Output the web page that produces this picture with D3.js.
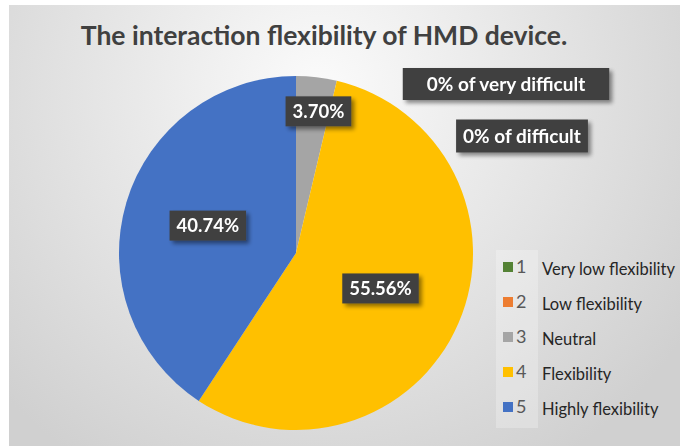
<!DOCTYPE html>
<html>
<head>
<meta charset="utf-8">
<script src="https://cdn.jsdelivr.net/npm/d3@7"></script>
<style>
  body { margin: 0; background: #fff; }
  svg { display: block; font-family: Lato, "Open Sans", sans-serif; }
</style>
</head>
<body>
<div id="chart"></div>
<script>
// data: 27 answers in total
var codes = ["1", "2", "3", "4", "5"];
var categories = ["Very low flexibility", "Low flexibility", "Neutral", "Flexibility", "Highly flexibility"];
var counts = [0, 0, 1, 15, 11];
var colors = ["#548235", "#ED7D31", "#A5A5A5", "#FFC000", "#4472C4"];
var zeroNotes = ["0% of very difficult", "0% of difficult"];
var title = "The interaction flexibility of HMD device.";

var W = 680, H = 446;
var cx = 296, cy = 253, radius = 177;

var svg = d3.select("#chart").append("svg")
  .attr("width", W)
  .attr("height", H);

var defs = svg.append("defs");

// soft grey background, lighter towards the top middle
var grad = defs.append("radialGradient")
  .attr("id", "bg")
  .attr("gradientUnits", "userSpaceOnUse")
  .attr("cx", 320).attr("cy", 90).attr("r", 440);
grad.append("stop").attr("offset", "0%").attr("stop-color", "#fbfbfb");
grad.append("stop").attr("offset", "100%").attr("stop-color", "#d0d0d0");

// little shadow under the dark label boxes
var shadow = defs.append("filter")
  .attr("id", "shadow")
  .attr("x", "-20%").attr("y", "-30%")
  .attr("width", "150%").attr("height", "180%");
shadow.append("feGaussianBlur").attr("in", "SourceAlpha").attr("stdDeviation", 2);
shadow.append("feOffset").attr("dx", 3).attr("dy", 3).attr("result", "blur");
shadow.append("feComponentTransfer").append("feFuncA").attr("type", "linear").attr("slope", 0.45);
var merge = shadow.append("feMerge");
merge.append("feMergeNode");
merge.append("feMergeNode").attr("in", "SourceGraphic");

svg.append("rect")
  .attr("x", 9).attr("y", 5)
  .attr("width", W - 9).attr("height", H - 5)
  .style("fill", "url(#bg)");

svg.append("text")
  .attr("x", 324)
  .attr("y", 45)
  .attr("text-anchor", "middle")
  .style("font-size", "26.5px")
  .style("font-weight", "bold")
  .style("fill", "#404040")
  .text(title);

/////////////////////////// pie ///////////////////////////
var total = d3.sum(counts);
var pie = d3.pie().sort(null).value(function(d) { return d; });
var arcs = pie(counts);

var arc = d3.arc().innerRadius(0).outerRadius(radius);
var g = svg.append("g").attr("transform", "translate(" + cx + "," + cy + ")");

g.selectAll(".slice")
  .data(arcs)
  .enter().append("path")
  .attr("class", "slice")
  .attr("d", arc)
  .style("fill", function(d, i) { return colors[i]; });

// dark labels with a shadow
function darkLabel(parent, x, y, txt, size, pad, h) {
  var lg = parent.append("g").attr("filter", "url(#shadow)");
  var t = lg.append("text")
    .attr("x", x).attr("y", y)
    .attr("text-anchor", "middle")
    .attr("dy", "0.36em")
    .style("font-size", size + "px")
    .style("font-weight", "bold")
    .style("fill", "#ffffff")
    .text(txt);
  var bb = t.node().getBBox();
  lg.insert("rect", "text")
    .attr("x", bb.x - pad).attr("y", y - h / 2)
    .attr("width", bb.width + 2 * pad).attr("height", h)
    .style("fill", "#404040");
}

var fmt = d3.format(".2%");
var small = d3.arc().innerRadius(radius * 0.8).outerRadius(radius * 0.8);
var mid = d3.arc().innerRadius(radius * 0.52).outerRadius(radius * 0.52);

arcs.forEach(function(d) {
  if (d.value === 0) return;
  var share = d.value / total;
  var c = (share < 0.1 ? small : mid).centroid(d);
  if (share < 0.1) c[0] += 6;
  darkLabel(g, c[0], c[1] - 1, fmt(share), 18.5, 7, 30);
});

// the two empty answers get a note in the corner
darkLabel(svg, 506, 84, zeroNotes[0], 19, 24, 32);
darkLabel(svg, 522, 136, zeroNotes[1], 19, 7, 33);

/////////////////////////// legend ///////////////////////////
var legend = svg.append("g").attr("transform", "translate(496,250)");
legend.append("rect")
  .attr("x", 0).attr("y", 0)
  .attr("width", 42).attr("height", 178)
  .style("fill", "#ffffff")
  .style("opacity", 0.25);

var rowY = d3.scalePoint().domain(codes).range([18, 158]);

var item = legend.selectAll(".item")
  .data(codes)
  .enter().append("g")
  .attr("class", "item")
  .attr("transform", function(d) { return "translate(0," + rowY(d) + ")"; });

item.append("rect")
  .attr("x", 7).attr("y", -6)
  .attr("width", 10).attr("height", 10)
  .style("fill", function(d, i) { return colors[i]; });

item.append("text")
  .attr("x", 20).attr("y", 5)
  .style("font-size", "18px")
  .style("fill", "#595959")
  .text(function(d) { return d; });

item.append("text")
  .attr("x", 46).attr("y", 7)
  .style("font-size", "16.5px")
  .style("fill", "#262626")
  .text(function(d, i) { return categories[i]; });
</script>
</body>
</html>
